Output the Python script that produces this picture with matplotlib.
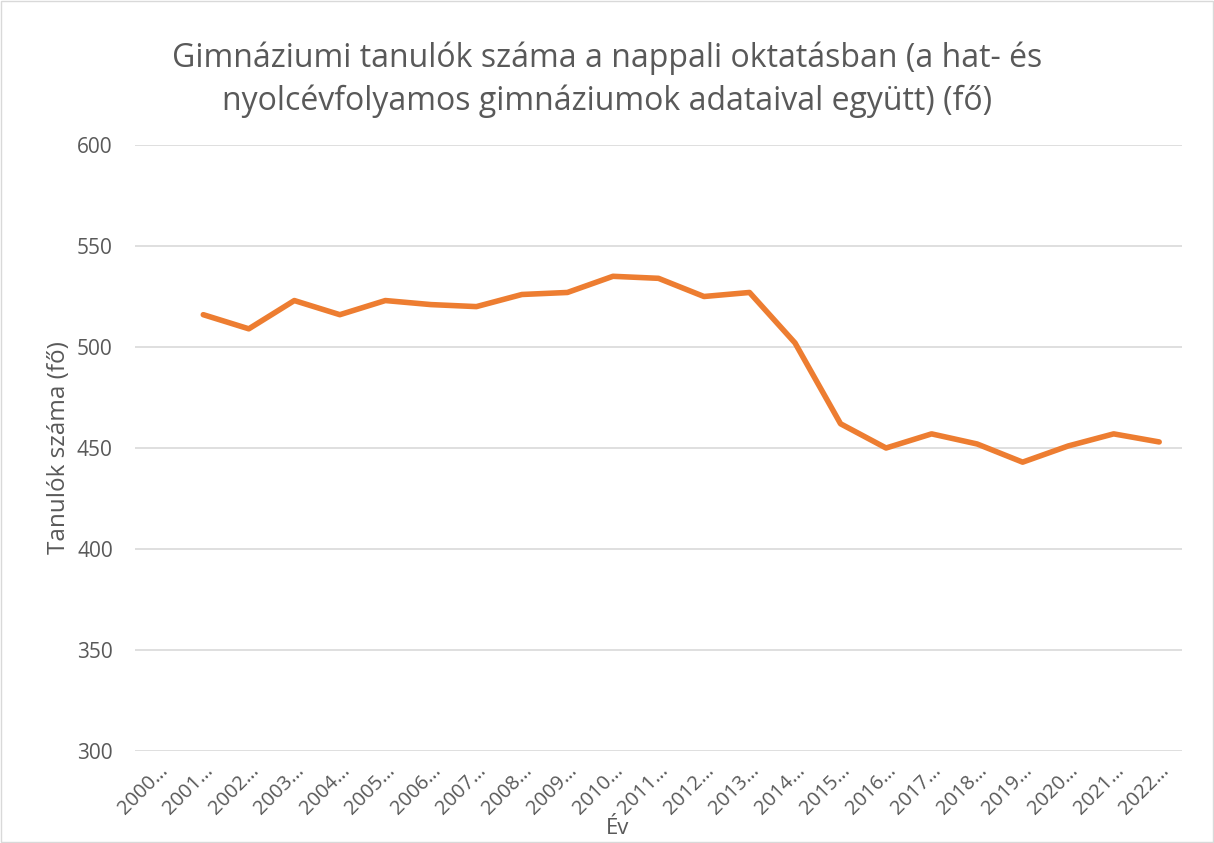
import matplotlib
matplotlib.use("Agg")
import matplotlib.pyplot as plt
from matplotlib.patches import Rectangle

plt.rcParams['font.family'] = ['Open Sans', 'DejaVu Sans']

categories = ["2000…", "2001…", "2002…", "2003…", "2004…", "2005…", "2006…", "2007…",
              "2008…", "2009…", "2010…", "2011…", "2012…", "2013…", "2014…", "2015…",
              "2016…", "2017…", "2018…", "2019…", "2020…", "2021…", "2022…"]
values = [None, 516, 509, 523, 516, 523, 521, 520, 526, 527, 535, 534, 525, 527,
          502, 462, 450, 457, 452, 443, 451, 457, 453]
yticks = [300, 350, 400, 450, 500, 550, 600]

title = "Gimnáziumi tanulók száma a nappali oktatásban (a hat- és\nnyolcévfolyamos gimnáziumok adataival együtt) (fő)"
xlabel = "Év"
ylabel = "Tanulók száma (fő)"

grey = "#595959"
fig = plt.figure(figsize=(12.14, 8.43), dpi=100)
ax = fig.add_axes([0.1112, 0.1091, 0.8624, 0.7189])

xs = [i for i, v in enumerate(values) if v is not None]
ys = [v for v in values if v is not None]
ax.plot(xs, ys, color="#ED7D31", linewidth=4, solid_joinstyle='round', solid_capstyle='round', zorder=3)

ax.set_xlim(-0.5, len(categories) - 0.5)
ax.set_ylim(300, 600)
ax.set_yticks(yticks)
ax.set_yticklabels([str(t) for t in yticks], fontsize=15, color=grey)
ax.set_xticks(range(len(categories)))
ax.set_xticklabels(categories, fontsize=14.5, color=grey, rotation=45, ha='right', rotation_mode='anchor')
ax.tick_params(axis='y', length=0, pad=16)
ax.tick_params(axis='x', length=0, pad=7)
ax.grid(axis='y', color="#D9D9D9", linewidth=1.2)
ax.set_axisbelow(True)
for s in ax.spines.values():
    s.set_visible(False)

ax.set_ylabel(ylabel, fontsize=17.5, color=grey, labelpad=4)
fig.text(618 / 1214, 1 - 829 / 843, xlabel, ha='center', va='center', fontsize=16, color=grey)

fig.text(0.5, 0.9057, title, ha='center', va='center', fontsize=23, color=grey, linespacing=1.38)
fig.patches.append(Rectangle((0.001, 0.001), 0.998, 0.998, transform=fig.transFigure,
                             fill=False, edgecolor="#D9D9D9", linewidth=1))

fig.savefig("out.png", dpi=100)
